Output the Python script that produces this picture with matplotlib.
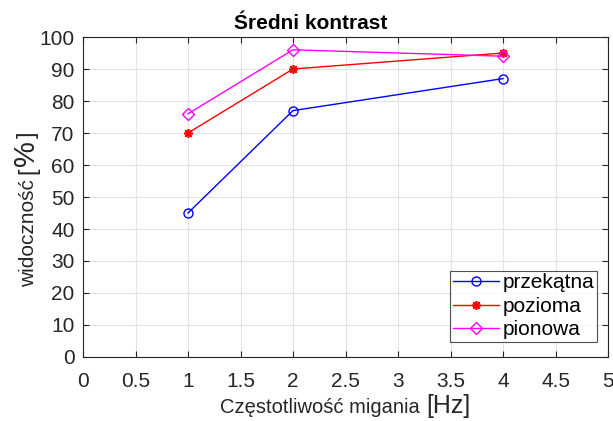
import matplotlib
matplotlib.use("Agg")
import matplotlib.pyplot as plt

plt.rcParams['font.family'] = ['Liberation Sans', 'DejaVu Sans']

freq = [1, 2, 4]
przekatna = [45, 77, 87]
pozioma = [70, 90, 95]
pionowa = [76, 96, 94]
xticks = [0, 0.5, 1, 1.5, 2, 2.5, 3, 3.5, 4, 4.5, 5]
xticklabels = ['0', '0.5', '1', '1.5', '2', '2.5', '3', '3.5', '4', '4.5', '5']

W, H = 613, 421
fig = plt.figure(figsize=(W / 100, H / 100), dpi=100)
ax = fig.add_axes([83 / W, 64 / H, 525 / W, 320 / H])

ax.plot(freq, przekatna, color='#0000ff', marker='o', mfc='none', ms=6.5, lw=1, label='przekątna')
ax.plot(freq, pozioma, color='#ff0000', marker=(8, 2, 0), ms=6.5, mew=1.2, lw=1, label='pozioma')
ax.plot(freq, pionowa, color='#ff00ff', marker='D', mfc='none', ms=5.8, lw=1, label='pionowa')

ax.set_xlim(0, 5)
ax.set_ylim(0, 100)
ax.set_xticks(xticks)
ax.set_xticklabels(xticklabels)
ax.set_yticks(range(0, 101, 10))
ax.grid(True, color='#e3e3e3', lw=0.8)
ax.set_axisbelow(True)
ax.tick_params(direction='in', top=True, right=True, labelsize=15, colors='#262626', length=4)
ax.tick_params(axis='x', pad=11)
ax.tick_params(axis='y', pad=6)
for s in ax.spines.values():
    s.set_color('#262626')
    s.set_linewidth(0.8)

ax.set_title('Średni kontrast', fontsize=15, fontweight='bold', x=0.434, pad=6)


def text_run(x, y, pieces, vertical=False):
    # draw text pieces one after another, each with its own size
    for s, size, gap in pieces:
        if vertical:
            t = fig.text(x / W, y / H, s, fontsize=size, color='#262626', rotation=90,
                         rotation_mode='anchor', ha='left', va='baseline')
        else:
            t = fig.text(x / W, y / H, s, fontsize=size, color='#262626', ha='left', va='baseline')
        fig.canvas.draw()
        bb = t.get_window_extent()
        if vertical:
            y = bb.y1 + gap
        else:
            x = bb.x1 + gap


text_run(220, 8, [('Częstotliwość migania', 14.5, 7), ('[Hz]', 18, 0)])
text_run(34, H - 287, [('widoczność', 15, 5), ('[', 17, 2), ('%', 21, 2), (']', 17, 0)], vertical=True)

leg = ax.legend(loc='lower right', bbox_to_anchor=(0.979, 0.047), fontsize=15, frameon=True, fancybox=False,
                edgecolor='#262626', handlelength=2.2, borderpad=0.12, labelspacing=0.22, handletextpad=0.2,
                borderaxespad=0)
leg.get_frame().set_linewidth(0.8)

fig.savefig('out.png', dpi=100)
